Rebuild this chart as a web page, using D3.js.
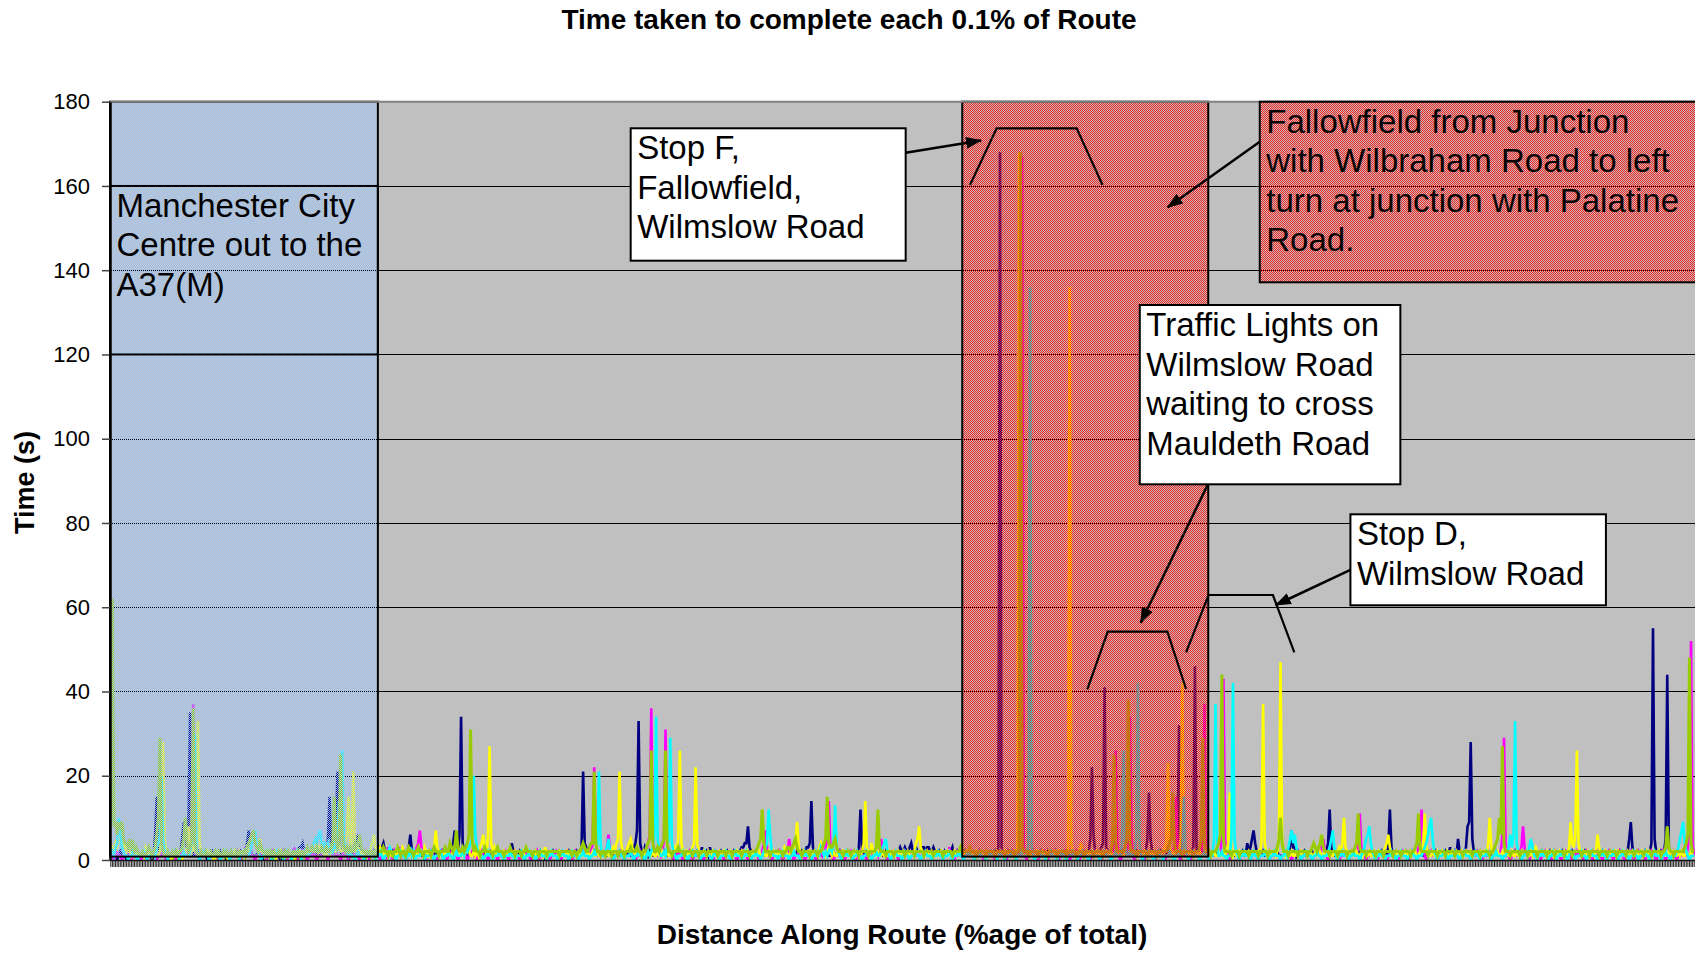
<!DOCTYPE html>
<html><head><meta charset="utf-8">
<script src="https://cdn.jsdelivr.net/npm/d3@7"></script>
<style>html,body{margin:0;padding:0;background:#fff;overflow:hidden}svg{display:block}</style>
</head><body>
<svg id="chart" width="1695" height="954"></svg>
<script>
// ---------------- DATA ----------------
const TITLE = "Time taken to complete each 0.1% of Route";
const X_TITLE = "Distance Along Route (%age of total)";
const Y_TITLE = "Time (s)";
const Y_TICKS = [0, 20, 40, 60, 80, 100, 120, 140, 160, 180];
const SERIES_COLORS = ["#000080", "#FF00FF", "#FFFF00", "#00FFFF", "#99CC00"];

// seconds taken for each 0.1% of the route (1000 steps), one array per run
const RUN_NAVY = [
1,2,1,1,0,1,2,1,1,1, 0,1,1,2,1,1,1,0,1,1, 1,1,2,1,1,1,0,1,6,15, 4,1,1,2,1,1,1,1,0,1, 1,2,1,1,2,5,9,6,2,8,
35,4,1,1,1,2,1,1,1,1, 1,0,1,1,2,1,1,1,1,2, 1,1,1,0,1,1,2,1,1,1, 1,1,2,1,1,1,4,7,3,1, 1,1,1,2,1,1,0,1,1,1,
1,1,2,1,1,1,1,0,1,1, 2,1,1,1,1,2,1,1,2,3, 3,4,2,1,1,1,2,1,1,1, 1,2,1,1,1,1,2,5,15,4, 2,3,6,21,5,2,1,1,2,1,
1,1,2,1,1,2,6,2,1,1, 1,2,1,1,1,1,2,1,1,3, 2,3,4,2,1,2,1,1,2,1, 1,2,1,1,1,2,1,2,3,6, 2,1,1,2,1,1,1,2,1,1,
1,2,1,1,1,2,1,1,1,2, 1,1,1,2,2,3,4,7,3,2, 6,34,4,2,1,1,2,1,1,1, 1,2,1,1,1,1,2,1,1,1, 2,1,1,1,1,2,1,1,1,1,
1,1,2,4,2,1,1,1,2,1, 1,1,1,2,1,1,1,1,2,1, 1,2,1,1,0,1,1,1,1,2, 1,1,1,2,1,1,1,1,1,2, 1,1,1,1,2,1,2,3,21,4,
3,2,1,1,1,2,1,1,1,2, 1,1,2,1,1,1,1,2,1,1, 1,1,2,1,1,1,2,1,1,2, 3,4,7,33,4,2,1,3,2,1, 2,1,1,1,1,2,1,1,1,2,
1,1,2,1,1,1,1,2,1,1, 1,2,1,1,1,1,2,1,1,1, 2,1,1,3,1,1,2,1,3,1, 1,2,1,1,1,2,1,1,1,2, 1,1,1,2,1,1,1,2,3,3,
4,4,8,3,2,1,1,2,1,1, 1,1,2,1,1,1,1,2,1,1, 1,2,1,1,1,2,1,1,1,2, 1,1,1,2,1,1,2,1,2,3, 3,4,14,3,2,1,1,1,2,1,
1,2,1,1,1,1,2,1,1,1, 2,1,1,1,1,2,1,1,1,2, 1,2,3,12,3,1,1,2,1,1, 1,1,2,1,1,1,2,1,1,2, 1,1,1,2,2,2,2,2,3,2,
2,3,2,2,3,4,2,2,3,2, 2,2,3,3,2,3,3,2,2,3, 2,1,1,2,1,1,2,1,1,1, 2,3,1,1,2,1,1,1,1,2, 1,1,1,2,1,1,1,1,2,1,
1,1,2,1,1,1,1,1,2,1, 3,168,2,1,1,1,2,1,1,1, 1,1,1,2,1,1,1,1,2,1, 1,1,2,1,1,1,1,2,1,1, 1,2,1,1,1,1,2,1,1,1,
1,1,1,2,1,1,1,1,1,2, 1,1,2,1,1,1,2,2,5,22, 6,2,2,2,2,3,4,41,3,2, 2,2,1,1,2,1,1,1,2,1, 1,2,1,1,1,1,1,2,1,1,
1,1,2,2,5,16,5,2,1,1, 1,1,2,1,1,1,1,2,1,1, 1,1,2,3,32,3,1,1,1,1, 1,1,2,3,46,3,1,1,1,2, 1,1,1,2,1,1,1,1,2,1,
1,1,2,1,1,1,1,2,1,1, 2,1,1,1,2,1,1,4,2,3, 5,7,4,2,1,1,1,2,1,1, 1,2,1,1,1,1,2,1,1,1, 1,1,2,2,3,7,3,3,1,2,
1,1,1,2,1,1,1,1,2,1, 1,1,2,1,1,1,1,2,4,12, 3,1,1,1,2,1,1,1,1,2, 1,1,1,2,1,1,1,1,2,1, 1,2,1,1,1,1,2,1,1,1,
1,1,2,1,1,1,3,12,3,1, 1,2,1,1,1,1,1,2,1,1, 2,1,1,1,1,2,1,1,1,1, 1,2,1,1,1,1,2,1,1,1, 1,1,2,1,1,3,1,1,2,1,
5,2,1,1,2,3,8,9,28,5, 2,1,1,1,2,1,1,1,2,1, 1,1,2,1,1,1,1,2,1,1, 1,2,1,1,1,1,2,1,1,1, 1,1,2,1,1,2,1,1,1,2,
1,1,1,2,1,1,1,1,2,1, 1,2,1,1,1,1,2,1,1,1, 1,1,2,1,1,1,1,2,1,1, 2,1,1,1,1,2,1,1,1,1, 1,2,1,1,1,1,2,1,1,1,
1,1,2,1,1,1,1,2,5,9, 3,1,1,2,1,1,1,1,2,1, 1,2,4,55,5,2,1,1,2,1, 2,5,44,3,1,1,2,1,1,1, 1,1,2,1,1,1,1,2,1,1
];
const RUN_MAGENTA = [
1,1,0,1,2,1,1,0,1,1, 1,2,1,0,1,1,1,2,1,0, 1,1,1,0,1,2,1,1,1,0, 1,1,2,1,1,0,1,1,1,2, 1,0,1,1,1,2,1,1,1,1,
2,8,37,5,1,1,0,1,1,2, 1,1,0,1,1,1,2,1,0,1, 1,1,1,2,1,0,1,1,1,1, 2,1,0,1,1,3,1,1,2,1, 1,0,1,1,1,2,1,1,0,1,
1,1,2,1,0,1,1,1,1,2, 1,0,1,1,1,1,3,1,0,1, 1,2,1,1,0,1,1,1,2,1, 0,1,1,1,1,2,1,0,1,1, 1,1,2,1,1,0,1,2,1,1,
0,1,1,1,2,1,1,0,1,1, 1,2,1,0,1,1,1,1,2,1, 0,1,1,2,1,3,1,1,0,2, 1,1,3,1,2,1,0,1,1,1, 2,1,1,3,4,7,3,1,1,0,
1,1,2,1,1,1,0,1,1,2, 1,1,0,1,1,2,1,1,1,0, 1,2,1,1,1,0,1,1,2,1, 1,0,1,1,2,1,1,1,0,1, 1,1,2,1,0,1,1,1,1,2,
1,0,1,1,1,2,1,1,0,1, 1,1,2,1,1,0,1,1,1,2, 0,1,1,1,2,1,1,0,1,1, 1,2,1,1,0,1,1,1,2,1, 1,0,1,2,1,1,1,1,2,1,
1,2,1,2,4,22,4,1,1,2, 1,1,2,3,6,2,1,0,1,1, 1,1,2,1,0,1,1,1,2,1, 1,0,1,1,2,1,1,1,2,4, 6,36,5,2,1,1,2,1,2,5,
31,4,2,1,1,0,1,1,2,1, 1,0,1,1,1,2,1,0,1,1, 1,2,1,1,0,1,1,2,1,1, 0,1,1,1,2,1,1,0,1,1, 1,2,1,1,1,0,1,1,2,1,
1,1,0,1,1,2,1,1,1,0, 1,2,4,7,3,1,1,0,1,1, 1,1,2,1,0,1,1,2,5,2, 1,0,1,1,2,1,1,1,0,1, 1,2,1,1,1,0,1,1,2,1,
2,3,5,14,3,1,0,1,1,1, 2,1,1,0,1,1,1,2,1,1, 0,1,1,2,1,1,1,0,1,2, 1,1,1,2,1,3,5,2,1,1, 0,1,1,1,2,1,1,0,1,1,
1,2,1,1,0,1,1,1,2,1, 1,0,1,1,1,2,1,1,0,1, 1,1,2,1,1,0,1,1,1,3, 1,1,0,1,2,1,1,1,0,1, 1,2,1,1,1,0,1,1,2,1,
1,0,1,1,1,2,1,1,0,1, 1,1,2,1,1,0,1,1,1,2, 1,0,1,1,2,167,2,1,0,1, 1,1,2,1,1,0,1,1,1,2, 1,0,1,1,1,2,1,1,0,1,
1,1,2,1,1,0,1,1,1,2, 1,0,1,1,2,1,1,1,0,1, 1,2,1,1,1,0,1,1,2,1, 1,1,2,4,26,4,1,0,1,1, 1,2,4,34,5,1,0,1,1,2,
1,1,0,1,1,2,1,1,1,0, 1,2,1,1,1,0,1,1,2,1, 1,3,15,3,1,0,1,1,1,2, 1,0,1,1,2,1,1,1,2,6, 37,4,1,0,1,1,2,1,1,1,
1,6,43,5,2,1,0,1,1,2, 1,1,0,1,1,2,1,1,1,0, 1,2,1,1,0,1,1,1,2,1, 1,0,1,1,1,2,1,1,0,1, 1,1,2,1,1,0,1,1,1,2,
1,0,1,1,2,1,1,1,0,1, 1,2,1,1,3,5,2,1,0,1, 1,1,2,1,1,0,1,1,1,2, 1,0,1,1,2,1,1,4,11,3, 1,1,0,1,1,2,1,1,1,0,
1,2,1,1,1,0,1,1,2,1, 1,1,0,1,1,2,1,1,1,0, 1,2,1,1,1,3,4,12,3,1, 0,1,1,2,1,1,1,0,1,1, 1,2,1,1,0,1,1,1,2,1,
1,0,1,1,1,2,1,1,0,1, 1,1,2,1,1,0,1,1,1,2, 1,0,1,1,2,1,1,2,6,29, 4,1,1,0,1,1,2,1,1,2, 3,8,3,1,1,0,1,1,2,1,
1,1,0,1,1,2,1,1,1,0, 1,2,1,1,1,0,1,1,2,1, 1,1,0,1,1,2,1,1,1,0, 1,2,1,1,1,0,1,1,2,1, 1,0,1,1,1,2,1,1,0,1,
1,1,2,1,1,0,1,1,1,2, 1,0,1,1,2,1,1,1,0,1, 1,1,2,1,1,0,1,1,1,2, 1,0,1,1,2,1,1,1,0,1, 1,1,2,1,1,3,8,52,4,1
];
const RUN_YELLOW = [
2,3,2,4,3,5,6,9,4,3, 2,3,2,1,2,1,1,2,1,1, 2,1,3,2,1,2,1,1,2,1, 1,2,6,28,5,2,1,1,0,1, 1,1,2,1,1,0,1,2,3,8,
3,2,4,2,5,33,4,2,1,1, 1,2,1,1,1,0,1,1,2,1, 1,1,2,1,0,1,1,1,2,1, 1,2,1,1,1,2,3,2,3,4, 7,4,3,2,5,2,2,1,2,1,
1,2,1,1,0,1,1,2,1,1, 1,1,2,1,1,1,0,1,1,2, 1,1,2,1,1,2,2,3,2,2, 4,2,3,2,2,1,2,1,1,3, 2,3,2,3,4,2,2,3,4,6,
15,3,4,21,4,2,3,2,1,2, 1,2,1,2,3,4,6,3,2,2, 3,2,1,2,1,1,2,1,1,1, 2,1,1,2,3,2,1,2,1,1, 2,1,1,2,1,1,2,1,3,2,
1,2,1,2,3,7,3,2,1,1, 2,1,1,2,1,1,2,3,2,1, 1,2,1,1,2,3,2,1,1,2, 1,2,1,3,4,6,3,1,6,27, 4,2,3,1,1,2,1,1,2,1,
1,2,1,1,1,2,1,1,1,1, 2,1,1,1,2,1,1,1,2,1, 1,1,2,1,3,1,1,1,2,1, 1,1,1,2,1,1,1,1,2,1, 1,2,1,1,1,1,2,1,1,1,
1,2,1,1,2,1,1,2,1,1, 2,1,1,2,1,1,2,3,2,4, 5,21,4,2,1,2,3,4,5,3, 2,1,1,2,1,1,2,1,1,2, 1,1,2,1,1,2,1,1,2,1,
1,2,1,1,2,2,3,2,5,26, 4,2,1,2,1,2,2,3,4,22, 4,2,1,1,2,1,1,2,1,1, 2,1,1,1,2,1,1,2,1,1, 1,2,1,1,1,2,1,1,2,1,
1,1,2,1,1,2,1,1,1,2, 1,1,2,1,1,2,1,1,2,1, 1,2,1,1,2,3,2,1,1,2, 2,3,4,9,3,2,1,2,1,1, 1,2,1,1,2,1,1,3,4,2,
2,1,2,3,2,1,2,1,1,2, 1,1,2,1,1,2,1,1,1,2, 1,2,1,1,2,4,14,3,2,1, 4,2,1,1,2,1,1,2,1,1, 1,2,1,1,2,1,1,2,1,1,
2,1,1,2,1,1,1,2,4,5, 8,3,2,1,1,2,1,1,2,1, 1,2,1,1,2,1,1,1,2,1, 1,1,2,1,1,2,1,1,2,1, 2,1,1,2,1,1,2,1,1,2,
1,1,2,1,1,2,1,1,1,2, 1,2,1,1,2,1,1,2,1,1, 2,1,2,168,3,2,1,1,2,1, 1,2,1,1,2,1,1,1,2,1, 1,1,2,1,1,2,1,1,2,1,
1,2,1,1,3,136,4,2,1,1, 2,1,4,2,1,1,2,1,1,2, 1,1,2,1,1,2,1,1,2,1, 1,2,1,1,2,1,1,2,1,1, 2,1,1,2,1,1,2,1,1,2,
1,1,2,1,1,2,1,1,2,1, 1,2,1,1,2,3,4,23,3,2, 1,2,1,1,2,5,42,4,2,1, 1,2,1,1,2,1,1,2,1,1, 2,1,1,2,1,1,2,1,1,2,
1,1,2,1,2,4,16,3,1,2, 1,1,2,1,1,2,1,1,2,1, 1,2,1,1,2,1,5,37,4,2, 1,2,1,1,2,1,2,6,47,5, 2,1,2,1,1,2,1,1,2,1,
1,2,1,1,2,1,1,2,1,1, 2,1,1,2,1,1,2,1,1,2, 1,1,2,1,2,3,2,4,10,3, 2,1,1,2,1,1,2,1,1,2, 1,2,1,1,2,1,1,2,1,1,
2,1,1,2,3,4,6,3,2,1, 1,2,1,1,2,1,1,2,1,1, 2,1,1,2,1,1,2,1,4,11, 3,2,1,1,2,1,1,2,1,1, 2,1,1,2,1,1,2,1,1,2,
1,1,2,1,1,2,1,1,2,1, 1,2,1,1,2,1,1,2,1,4, 10,3,2,1,1,2,1,1,2,1, 1,2,1,1,2,1,1,2,1,1, 2,1,1,2,1,1,2,1,2,3,
2,1,1,2,1,1,2,1,1,2, 1,2,1,1,2,1,1,2,1,1, 3,9,4,3,6,26,4,2,1,2, 1,1,2,1,1,2,1,2,6,3, 2,1,1,2,1,1,2,1,1,2,
1,2,1,1,2,1,1,2,1,1, 2,1,1,2,1,1,2,1,1,2, 1,2,1,1,2,1,1,2,1,1, 2,1,1,2,1,1,2,1,1,2, 1,2,1,1,2,1,1,2,1,1
];
const RUN_CYAN = [
1,2,1,3,4,10,6,3,2,1, 1,0,1,1,2,1,1,0,1,1, 1,2,1,0,1,1,1,2,1,3, 4,6,20,5,2,1,0,1,1,1, 2,1,1,0,1,1,2,1,1,1,
2,4,8,30,3,1,0,1,1,2, 1,1,0,1,1,1,2,1,1,0, 1,1,2,1,1,0,1,1,1,2, 1,0,1,1,2,1,1,1,2,4, 5,7,4,2,1,0,1,1,2,1,
1,1,0,1,1,2,1,1,1,0, 1,2,1,1,0,1,1,2,1,1, 0,1,2,1,1,1,2,3,4,5, 4,6,7,4,3,4,3,4,2,3, 2,4,3,5,14,8,26,5,3,2,
1,2,1,1,0,1,2,1,1,1, 0,1,1,2,1,1,1,0,1,1, 2,1,0,1,1,2,3,2,1,1, 0,1,1,2,1,1,0,1,1,3, 1,2,0,1,1,1,2,1,0,1,
1,1,2,1,0,1,1,1,2,1, 0,1,1,2,1,1,0,1,2,1, 1,1,2,1,3,2,3,4,5,20, 6,3,2,1,1,0,1,1,2,1, 1,0,1,1,1,2,1,1,0,1,
1,1,2,1,1,0,1,1,1,2, 1,0,1,1,2,1,1,1,0,1, 1,2,1,1,1,0,1,1,2,1, 1,1,0,1,1,2,1,1,1,0, 1,2,1,1,1,0,1,1,2,1,
1,1,0,1,1,2,1,4,21,4, 1,1,2,3,5,2,1,0,1,1, 1,2,1,1,0,1,1,1,2,1, 0,1,1,2,1,1,1,0,1,2, 1,2,3,6,34,5,2,1,1,2,
1,3,5,29,4,2,1,0,1,1, 1,2,1,1,0,1,1,2,1,1, 2,1,0,1,1,2,1,1,1,0, 1,2,1,1,0,1,1,1,2,1, 1,0,1,1,2,1,1,1,0,1,
1,2,1,1,0,1,1,2,1,1, 0,1,2,3,4,12,6,2,1,1, 1,0,1,1,2,1,1,1,0,1, 1,2,1,1,1,0,1,1,2,1, 1,1,0,1,1,2,1,1,3,2,
1,2,1,2,3,2,4,13,3,2, 1,0,1,1,2,1,1,1,0,1, 1,2,1,1,0,1,1,2,1,1, 0,1,1,2,1,1,2,3,4,5, 2,1,0,1,1,2,1,1,1,0,
1,2,1,1,0,1,1,1,2,1, 1,0,1,1,2,1,1,1,0,1, 1,1,2,1,1,0,1,1,1,2, 1,0,1,1,1,2,1,1,0,1, 1,2,1,1,1,0,1,1,2,1,
1,1,0,1,1,2,1,1,1,0, 1,2,1,1,0,1,1,1,2,1, 1,0,1,1,2,1,1,1,1,4, 136,3,1,0,1,1,2,1,1,1, 0,1,1,2,1,1,1,0,1,1,
2,1,1,0,1,1,1,2,1,1, 0,1,1,2,1,1,1,0,1,1, 2,1,1,1,0,1,1,2,1,1, 1,0,1,1,2,1,1,1,4,26, 4,1,1,2,1,1,2,5,42,4,
1,0,1,1,2,1,1,1,0,1, 1,2,1,1,0,1,1,1,2,1, 1,0,1,1,2,1,1,15,3,1, 0,1,1,2,1,1,1,0,1,1, 2,1,1,0,1,1,5,37,4,1,
1,2,1,1,0,1,1,5,42,5, 2,1,0,1,1,2,1,1,1,0, 1,2,1,1,0,1,1,1,2,1, 1,0,1,1,2,1,1,1,0,1, 1,2,1,3,5,7,4,6,3,1,
1,0,1,1,2,1,1,1,0,1, 1,2,1,1,0,1,1,1,2,3, 5,7,3,1,0,1,1,2,1,1, 1,0,1,1,2,1,1,1,0,1, 2,3,5,6,8,4,2,1,0,1,
1,2,1,1,0,1,1,1,2,1, 1,0,1,1,2,1,1,1,0,1, 1,2,1,1,0,1,1,1,2,3, 4,6,8,10,5,2,1,0,1,1, 1,2,1,1,0,1,1,1,2,1,
1,0,1,1,2,1,1,1,0,1, 1,2,1,1,0,1,1,1,2,1, 1,0,1,1,2,1,1,1,0,1, 1,2,3,6,3,6,33,4,2,1, 0,1,1,2,1,3,5,3,1,1,
0,1,1,2,1,1,1,0,1,1, 2,1,0,1,1,2,1,1,1,0, 1,2,1,1,0,1,1,1,2,1, 1,0,1,1,2,1,1,1,0,1, 1,2,1,1,0,1,1,1,2,1,
1,0,1,1,2,1,1,1,0,1, 1,2,1,1,0,1,1,1,2,1, 1,0,1,1,2,1,1,1,0,1, 1,2,1,1,0,1,1,1,2,3, 5,7,9,4,2,1,0,1,1,1
];
const RUN_OLIVE = [
9,62,8,9,6,9,8,9,5,4, 4,3,5,3,4,2,3,2,1,1, 2,1,1,2,3,2,1,2,3,6, 10,29,4,2,1,1,2,1,1,2, 1,2,1,2,2,3,5,10,4,2,
3,5,36,4,2,1,1,2,1,1, 2,1,1,2,1,1,2,1,2,1, 1,2,1,2,1,1,2,1,1,2, 1,2,2,1,2,1,3,4,5,6, 7,4,3,2,4,3,2,2,1,2,
1,2,1,2,1,1,2,1,2,1, 2,1,2,1,1,2,2,1,2,1, 2,2,1,2,3,2,2,3,2,2, 3,2,2,3,2,2,3,2,2,3, 4,15,5,3,4,25,6,3,2,3,
2,3,2,2,4,3,4,6,3,2, 2,1,2,2,1,2,2,1,2,2, 2,2,3,2,2,1,2,2,1,2, 2,3,2,1,2,2,1,2,3,2, 2,1,2,2,3,2,2,1,2,2,
2,2,1,2,3,2,2,1,2,2, 2,3,2,2,4,3,2,3,7,3, 2,2,3,2,3,4,6,31,5,2, 3,2,2,1,2,2,3,2,2,2, 2,1,2,2,3,2,2,2,1,2,
2,2,3,2,2,1,2,2,2,1, 2,2,3,2,2,2,1,2,2,2, 1,2,2,2,2,1,2,2,2,2, 2,2,2,1,2,2,2,2,2,2, 2,1,2,2,1,2,2,3,4,3,
2,2,3,4,4,21,4,2,2,1, 2,2,1,2,2,2,1,2,2,2, 1,2,2,2,1,2,2,2,3,2, 2,2,3,2,2,1,2,2,3,4, 5,26,4,2,2,3,2,3,4,5,
26,4,2,2,1,2,2,2,3,2, 2,2,1,2,2,2,2,1,2,2, 2,1,2,2,2,2,1,2,2,2, 2,2,2,1,2,2,2,2,1,2, 2,2,1,2,2,2,2,2,1,2,
2,2,2,1,2,2,2,2,3,4, 5,12,4,2,2,2,1,2,2,2, 2,2,2,2,1,2,2,3,3,2, 3,4,5,3,2,2,1,2,2,2, 2,1,2,2,2,2,1,2,2,3,
4,5,15,4,3,3,4,5,3,2, 2,2,1,2,2,2,2,1,2,2, 2,2,1,2,2,2,2,2,1,2, 2,2,2,3,12,3,2,2,2,1, 2,2,2,2,1,2,2,2,2,2,
2,1,2,2,2,2,2,1,2,2, 2,2,2,1,2,2,2,2,2,1, 2,2,2,2,2,1,2,2,2,2, 2,1,2,2,2,2,3,2,2,2, 2,2,3,2,2,2,1,2,2,2,
2,2,1,2,2,2,2,2,1,2, 2,2,2,2,1,2,2,2,2,2, 1,2,2,2,168,3,2,2,2,1, 2,2,2,2,2,1,2,2,2,2, 2,1,2,2,2,2,2,1,2,2,
2,2,2,1,2,2,2,2,2,1, 2,2,2,2,1,2,2,2,2,2, 1,2,2,2,2,2,1,2,2,2, 2,2,4,25,4,2,2,2,2,2, 3,5,38,4,2,2,2,1,2,2,
2,2,2,2,1,2,2,2,2,2, 1,2,2,2,2,2,2,3,4,5, 16,4,2,2,2,2,1,2,2,2, 2,2,2,1,2,2,2,3,5,29, 4,2,2,2,1,2,2,2,3,4,
6,44,5,2,2,2,2,1,2,2, 2,2,1,2,2,2,2,2,1,2, 2,2,2,2,1,2,2,2,2,2, 1,2,2,2,2,2,3,5,10,4, 2,2,2,1,2,2,2,2,2,1,
2,2,2,2,2,1,2,2,3,4, 3,2,3,4,6,3,2,2,2,1, 2,2,2,2,1,2,2,2,2,2, 1,2,2,2,2,3,4,11,3,2, 2,2,1,2,2,2,2,2,1,2,
2,2,2,1,2,2,2,2,2,1, 2,2,2,2,1,2,2,2,2,2, 1,2,2,3,4,11,3,2,2,2, 2,1,2,2,2,2,2,1,2,2, 2,2,1,2,2,2,2,2,1,2,
2,2,2,1,2,2,2,2,2,1, 2,2,2,2,1,2,2,2,2,2, 1,2,2,3,4,5,10,6,27,4, 2,2,2,1,2,2,2,2,2,1, 2,2,2,2,1,2,2,2,2,2,
1,2,2,2,2,2,1,2,2,2, 2,1,2,2,2,2,2,1,2,2, 2,2,1,2,2,2,2,2,1,2, 2,2,2,1,2,2,2,2,2,1, 2,2,2,2,1,2,2,2,2,2,
1,2,2,2,2,2,1,2,2,2, 2,1,2,2,2,2,2,1,2,2, 2,2,1,2,2,2,2,2,1,2, 2,3,8,3,2,2,1,2,2,2, 2,2,2,3,4,6,48,4,2,2
];
const SERIES = [RUN_NAVY, RUN_MAGENTA, RUN_YELLOW, RUN_CYAN, RUN_OLIVE];

// shaded route sections (x in % of route, y in seconds)
const REGIONS = [
  { from: 0, to: 16.9, yLow: 0.8, yHigh: 180, pattern: "bluePat" },
  { from: 53.77, to: 69.29, yLow: 0.8, yHigh: 180, pattern: "redPat" }
];
// callout boxes: [x0 %, x1 %, yTop s, yBottom s]
const CALLOUTS = [
  { lines: ["Manchester City", "Centre out to the", "A37(M)"], box: [0, 16.9, 160, 120], fill: "none" },
  { lines: ["Stop F,", "Fallowfield,", "Wilmslow Road"], box: [32.85, 50.20, 173.69, 142.26], fill: "#ffffff" },
  { lines: ["Fallowfield from Junction", "with Wilbraham Road to left", "turn at junction with Palatine", "Road."], box: [72.54, 110, 180, 137.13], fill: "url(#redPat)" },
  { lines: ["Traffic Lights on", "Wilmslow Road", "waiting to cross", "Mauldeth Road"], box: [64.97, 81.41, 131.74, 89.18], fill: "#ffffff" },
  { lines: ["Stop D,", "Wilmslow Road"], box: [78.26, 94.38, 82.06, 60.46], fill: "#ffffff" }
];
const ARROWS = [
  [[50.20, 167.89], [54.95, 170.79]],
  [[72.54, 170.5], [66.73, 154.93]],
  [[69.27, 89.18], [65.03, 56.33]],
  [[78.26, 68.84], [73.55, 60.53]]
];
const BRACKETS = [
  [[54.26, 160.22], [55.94, 173.69], [60.99, 173.69], [62.62, 160.22]],
  [[61.66, 40.52], [62.95, 54.19], [66.71, 54.19], [67.89, 40.59]],
  [[67.89, 49.30], [69.31, 62.90], [73.37, 62.90], [74.72, 49.30]]
];

// ---------------- DRAW ----------------
const FONT = "'Liberation Sans', Arial, Helvetica, sans-serif";
const svg = d3.select("#chart");
const PL = 110, PR = 1695, PT = 101.7, PB = 860;
const N = RUN_NAVY.length;
const x = d3.scaleBand().domain(d3.range(N)).range([PL, PR]).paddingInner(0).paddingOuter(0);
const xp = d3.scaleLinear().domain([0, 100]).range([PL, PR]);
const y = d3.scaleLinear().domain([0, 180]).range([PB, PT]);

const defs = svg.append("defs");
defs.append("clipPath").attr("id", "plotClip").append("rect")
  .attr("x", PL).attr("y", PT - 2).attr("width", PR - PL).attr("height", PB - PT + 2);
function checker(id, col) {
  const p = defs.append("pattern").attr("id", id).attr("patternUnits", "userSpaceOnUse")
    .attr("x", 0).attr("y", 0).attr("width", 2).attr("height", 2);
  p.append("rect").attr("x", 0).attr("y", 0).attr("width", 1).attr("height", 1).attr("fill", col);
  p.append("rect").attr("x", 1).attr("y", 1).attr("width", 1).attr("height", 1).attr("fill", col);
}
checker("bluePat", "#A0C8FC");
checker("redPat", "#FF1E1E");
defs.append("marker").attr("id", "arrowHead").attr("viewBox", "0 -6 16 12")
  .attr("refX", 15).attr("refY", 0).attr("markerWidth", 16).attr("markerHeight", 12)
  .attr("markerUnits", "userSpaceOnUse").attr("orient", "auto")
  .append("path").attr("d", "M0,-6L16,0L0,6Z").attr("fill", "#000");

svg.append("rect").attr("width", 1695).attr("height", 954).attr("fill", "#fff");
svg.append("rect").attr("x", PL).attr("y", PT).attr("width", PR - PL).attr("height", PB - PT).attr("fill", "#C0C0C0");

// gridlines
svg.append("g").selectAll("line").data(Y_TICKS.filter(t => t > 0 && t < 180)).join("line")
  .attr("x1", PL).attr("x2", PR).attr("y1", d => Math.round(y(d)) + 0.5).attr("y2", d => Math.round(y(d)) + 0.5)
  .attr("stroke", "#000").attr("stroke-width", 1);

// series lines
const line = d3.line().x((d, i) => x(i) + x.bandwidth() / 2).y(d => y(d));
svg.append("g").attr("clip-path", "url(#plotClip)").selectAll("path").data(SERIES).join("path")
  .attr("d", d => line(d)).attr("fill", "none")
  .attr("stroke", (d, i) => SERIES_COLORS[i])
  .attr("stroke-width", (d, i) => i === 4 ? 3 : 2.6)
  .attr("stroke-linejoin", "miter");

// shaded regions
svg.append("g").selectAll("rect").data(REGIONS).join("rect")
  .attr("x", d => xp(d.from)).attr("y", d => y(d.yHigh))
  .attr("width", d => xp(d.to) - xp(d.from)).attr("height", d => y(d.yLow) - y(d.yHigh))
  .attr("fill", d => `url(#${d.pattern})`).attr("stroke", "#000").attr("stroke-width", 2);

// plot top border
svg.append("line").attr("x1", PL).attr("x2", PR).attr("y1", PT).attr("y2", PT)
  .attr("stroke", "#808080").attr("stroke-width", 2);

// axes
const yAxis = svg.append("g").attr("transform", `translate(${PL},0)`)
  .call(d3.axisLeft(y).tickValues(Y_TICKS).tickSize(8).tickSizeOuter(0).tickPadding(12));
yAxis.select(".domain").attr("stroke", "#000").attr("stroke-width", 2.5);
yAxis.selectAll(".tick line").attr("stroke", "#444").attr("stroke-width", 1.5);
yAxis.selectAll(".tick text").attr("font-family", FONT).attr("font-size", 22).attr("fill", "#000");

const xAxis = svg.append("g").attr("transform", `translate(0,${PB})`)
  .call(d3.axisBottom(x).tickFormat("").tickSize(7).tickSizeOuter(0));
xAxis.select(".domain").attr("stroke", "#000").attr("stroke-width", 1.5);
xAxis.selectAll(".tick line").attr("stroke", "#222").attr("stroke-width", 1);

// callouts
const cg = svg.append("g");
CALLOUTS.forEach(c => {
  const [x0, x1, yt, yb] = c.box;
  cg.append("rect").attr("x", xp(x0)).attr("y", y(yt)).attr("width", xp(x1) - xp(x0)).attr("height", y(yb) - y(yt))
    .attr("fill", c.fill).attr("stroke", "#000").attr("stroke-width", 2);
  const t = cg.append("text").attr("font-family", FONT).attr("font-size", 33).attr("fill", "#000");
  c.lines.forEach((ln, i) => t.append("tspan").attr("x", xp(x0) + 6.5).attr("y", y(yt) + 31 + i * 39.5).text(ln));
});
cg.selectAll("path.bracket").data(BRACKETS).join("path").attr("class", "bracket")
  .attr("d", d => d3.line().x(p => xp(p[0])).y(p => y(p[1]))(d))
  .attr("fill", "none").attr("stroke", "#000").attr("stroke-width", 2.2);
cg.selectAll("line.arrow").data(ARROWS).join("line").attr("class", "arrow")
  .attr("x1", d => xp(d[0][0])).attr("y1", d => y(d[0][1]))
  .attr("x2", d => xp(d[1][0])).attr("y2", d => y(d[1][1]))
  .attr("stroke", "#000").attr("stroke-width", 2.5).attr("marker-end", "url(#arrowHead)");

// titles
svg.append("text").attr("x", 849).attr("y", 29).attr("text-anchor", "middle")
  .attr("font-family", FONT).attr("font-weight", "bold").attr("font-size", 28).text(TITLE);
svg.append("text").attr("x", 902).attr("y", 944).attr("text-anchor", "middle")
  .attr("font-family", FONT).attr("font-weight", "bold").attr("font-size", 28).text(X_TITLE);
svg.append("text").attr("transform", "translate(34,482.5) rotate(-90)").attr("text-anchor", "middle")
  .attr("font-family", FONT).attr("font-weight", "bold").attr("font-size", 27).text(Y_TITLE);
</script>
</body></html>
